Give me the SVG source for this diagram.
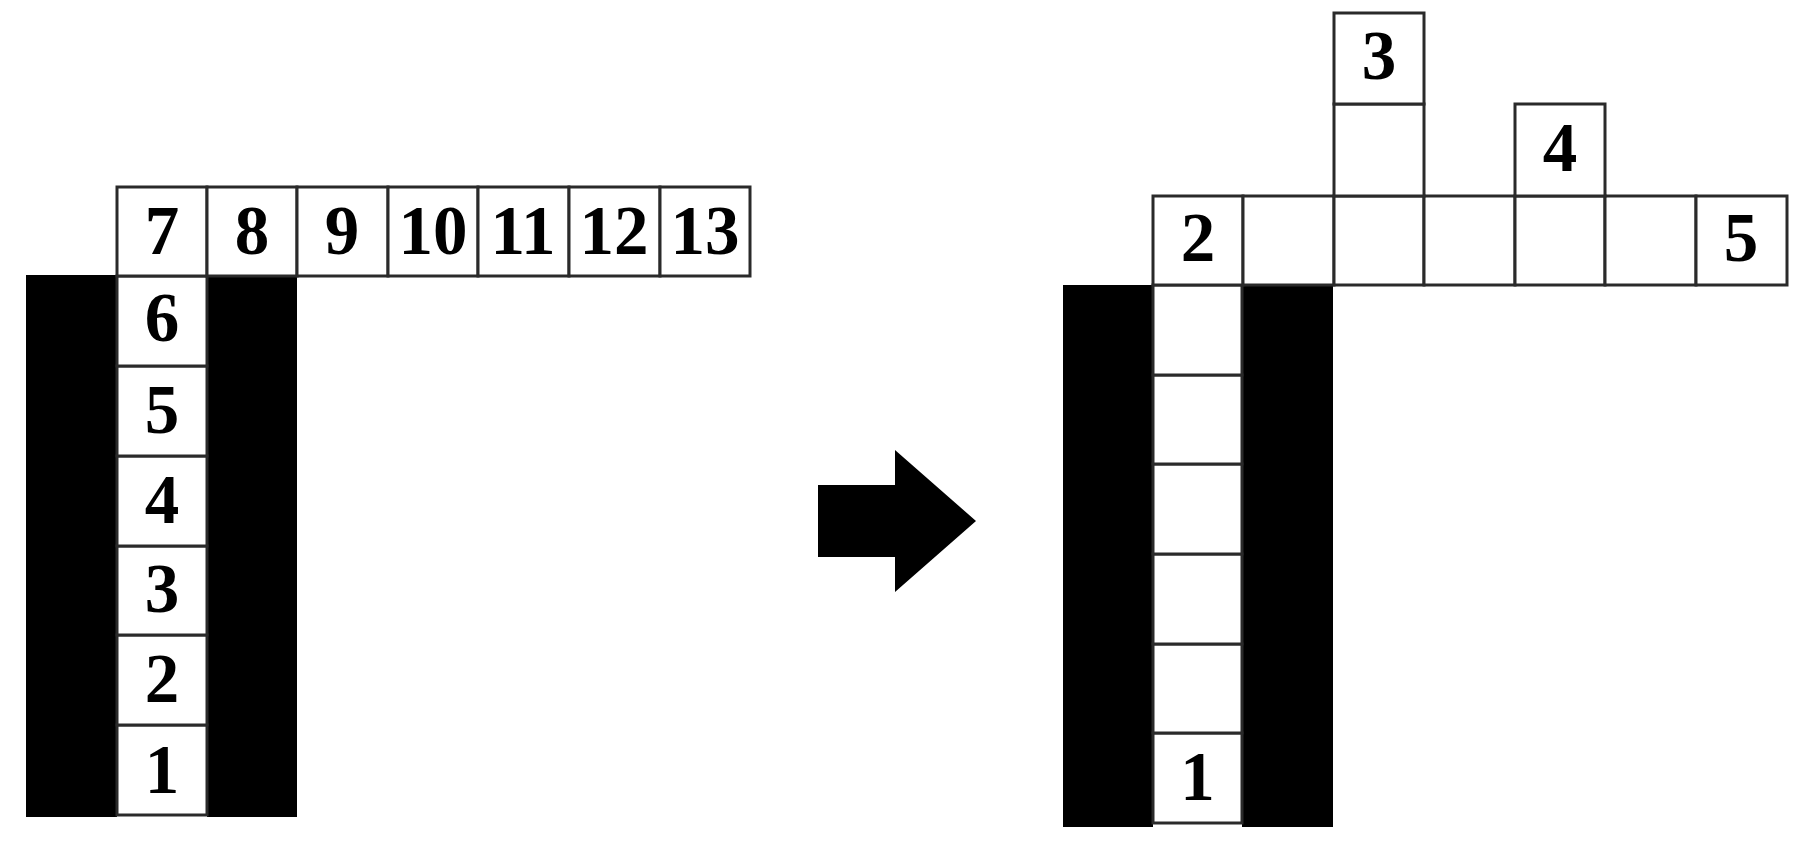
<svg xmlns="http://www.w3.org/2000/svg" width="1803" height="844" viewBox="0 0 1803 844">
<style>
.cell{fill:#fff;stroke:#2a2a2a;stroke-width:3}
.wall{fill:#000}
.num{font-family:"Liberation Serif","Times New Roman",serif;font-weight:bold;font-size:69px;text-anchor:middle;fill:#000}
</style>
<rect width="1803" height="844" fill="#fff"/>
<g id="left-walls">
<rect class="wall" x="26" y="275" width="91" height="542"/>
<rect class="wall" x="207" y="275" width="90" height="542"/>
</g>
<g id="left-c1"><rect class="cell" x="117" y="725" width="90" height="90"/><text class="num" x="162" y="793">1</text></g>
<g id="left-c2"><rect class="cell" x="117" y="635" width="90" height="90"/><text class="num" x="162" y="702">2</text></g>
<g id="left-c3"><rect class="cell" x="117" y="546" width="90" height="89"/><text class="num" x="162" y="612">3</text></g>
<g id="left-c4"><rect class="cell" x="117" y="456" width="90" height="90"/><text class="num" x="162" y="523">4</text></g>
<g id="left-c5"><rect class="cell" x="117" y="366" width="90" height="90"/><text class="num" x="162" y="433">5</text></g>
<g id="left-c6"><rect class="cell" x="117" y="276" width="90" height="90"/><text class="num" x="162" y="341">6</text></g>
<g id="left-c7"><rect class="cell" x="117" y="187" width="90" height="89"/><text class="num" x="162" y="254">7</text></g>
<g id="left-c8"><rect class="cell" x="207" y="187" width="90" height="89"/><text class="num" x="252" y="254">8</text></g>
<g id="left-c9"><rect class="cell" x="297" y="187" width="91" height="89"/><text class="num" x="342" y="254">9</text></g>
<g id="left-c10"><rect class="cell" x="388" y="187" width="90" height="89"/><text class="num" x="433" y="254">10</text></g>
<g id="left-c11"><rect class="cell" x="478" y="187" width="91" height="89"/><text class="num" x="523" y="254">11</text></g>
<g id="left-c12"><rect class="cell" x="569" y="187" width="91" height="89"/><text class="num" x="614" y="254">12</text></g>
<g id="left-c13"><rect class="cell" x="660" y="187" width="90" height="89"/><text class="num" x="705" y="254">13</text></g>
<g id="connectors">
<polygon points="818,485 895,485 895,450 976,521 895,592 895,557 818,557" fill="#000"/>
</g>
<g id="right-walls">
<rect class="wall" x="1063" y="285" width="90" height="542"/>
<rect class="wall" x="1242" y="285" width="91" height="542"/>
</g>
<g id="right-col1"><rect class="cell" x="1153" y="733" width="89" height="90"/><text class="num" x="1197.5" y="800">1</text></g>
<g id="right-col2"><rect class="cell" x="1153" y="644" width="89" height="89"/></g>
<g id="right-col3"><rect class="cell" x="1153" y="554" width="89" height="90"/></g>
<g id="right-col4"><rect class="cell" x="1153" y="464" width="89" height="90"/></g>
<g id="right-col5"><rect class="cell" x="1153" y="375" width="89" height="89"/></g>
<g id="right-col6"><rect class="cell" x="1153" y="285" width="89" height="90"/></g>
<g id="right-r2"><rect class="cell" x="1153" y="196" width="90" height="89"/><text class="num" x="1198" y="261">2</text></g>
<g id="right-r-b"><rect class="cell" x="1243" y="196" width="91" height="89"/></g>
<g id="right-r-c"><rect class="cell" x="1334" y="196" width="90" height="89"/></g>
<g id="right-r-d"><rect class="cell" x="1424" y="196" width="91" height="89"/></g>
<g id="right-r-e"><rect class="cell" x="1515" y="196" width="90" height="89"/></g>
<g id="right-r-f"><rect class="cell" x="1605" y="196" width="91" height="89"/></g>
<g id="right-r5"><rect class="cell" x="1696" y="196" width="91" height="89"/><text class="num" x="1741" y="261">5</text></g>
<g id="right-up1"><rect class="cell" x="1334" y="104" width="90" height="92"/></g>
<g id="right-up3"><rect class="cell" x="1334" y="13" width="90" height="91"/><text class="num" x="1379" y="79">3</text></g>
<g id="right-up4"><rect class="cell" x="1515" y="104" width="90" height="92"/><text class="num" x="1560" y="171">4</text></g>
</svg>
